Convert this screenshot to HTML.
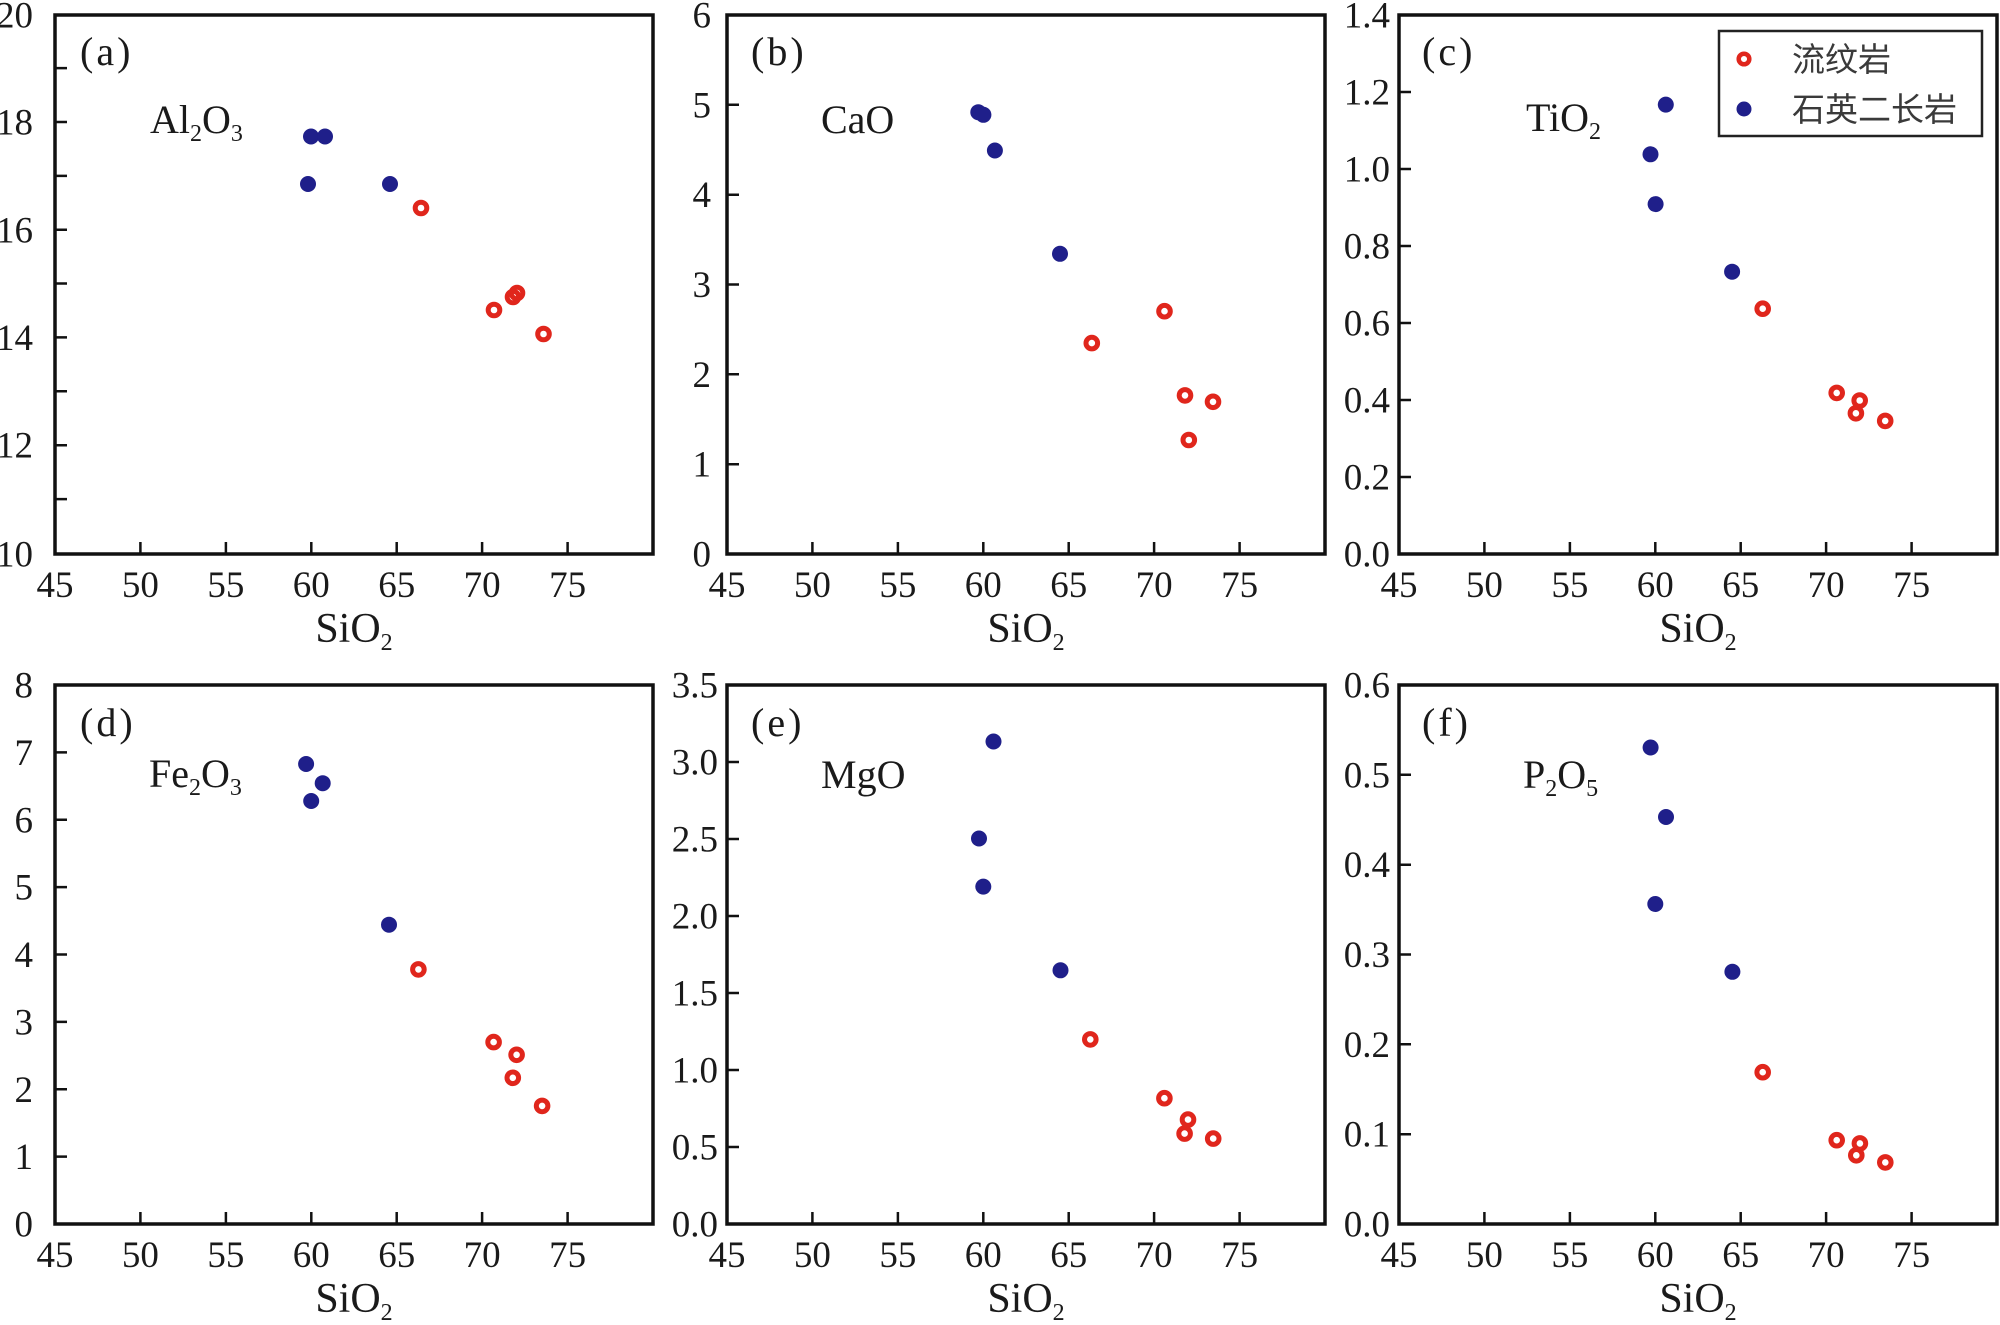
<!DOCTYPE html>
<html><head><meta charset="utf-8">
<style>
html,body{margin:0;padding:0;background:#fff;}
svg{display:block;}
.t{font-family:"Liberation Serif",serif;font-size:37px;fill:#1a1a1a;}
.lab{font-family:"Liberation Serif",serif;font-size:40px;fill:#1a1a1a;}
.ax{font-family:"Liberation Serif",serif;font-size:42px;fill:#1a1a1a;}
.leg{font-family:"Liberation Sans","Noto Sans CJK SC",sans-serif;font-size:33px;fill:#3a3a3a;}
.b{fill:#1f1f8a;}
.r{fill:none;stroke:#e0261c;stroke-width:5;}
</style></head>
<body>
<svg width="2000" height="1325" viewBox="0 0 2000 1325" xmlns="http://www.w3.org/2000/svg">
<rect width="2000" height="1325" fill="#fff"/>

<!-- frames -->
<g fill="none" stroke="#111" stroke-width="3.5">
<rect x="55" y="15" width="598" height="539"/>
<rect x="727" y="15" width="598" height="539"/>
<rect x="1399" y="15" width="598" height="539"/>
<rect x="55" y="685" width="598" height="539"/>
<rect x="727" y="685" width="598" height="539"/>
<rect x="1399" y="685" width="598" height="539"/>
</g>

<!-- ticks -->
<g stroke="#111" stroke-width="2.5">
<!-- x ticks row1 -->
<path d="M140.4 554v-12M225.9 554v-12M311.3 554v-12M396.7 554v-12M482.1 554v-12M567.6 554v-12"/>
<path d="M812.4 554v-12M897.9 554v-12M983.3 554v-12M1068.7 554v-12M1154.1 554v-12M1239.6 554v-12"/>
<path d="M1484.4 554v-12M1569.9 554v-12M1655.3 554v-12M1740.7 554v-12M1826.1 554v-12M1911.6 554v-12"/>
<!-- x ticks row2 -->
<path d="M140.4 1224v-12M225.9 1224v-12M311.3 1224v-12M396.7 1224v-12M482.1 1224v-12M567.6 1224v-12"/>
<path d="M812.4 1224v-12M897.9 1224v-12M983.3 1224v-12M1068.7 1224v-12M1154.1 1224v-12M1239.6 1224v-12"/>
<path d="M1484.4 1224v-12M1569.9 1224v-12M1655.3 1224v-12M1740.7 1224v-12M1826.1 1224v-12M1911.6 1224v-12"/>
<!-- y ticks a -->
<path d="M55 68.1h12M55 122h12M55 175.9h12M55 229.8h12M55 283.5h12M55 337.4h12M55 391.3h12M55 445.2h12M55 499.1h12"/>
<!-- b -->
<path d="M727 104.8h12M727 194.7h12M727 284.5h12M727 374.3h12M727 464.2h12"/>
<!-- c -->
<path d="M1399 92h12M1399 169h12M1399 246h12M1399 323h12M1399 400h12M1399 477h12"/>
<!-- d -->
<path d="M55 752.4h12M55 819.8h12M55 887.1h12M55 954.5h12M55 1021.9h12M55 1089.3h12M55 1156.6h12"/>
<!-- e -->
<path d="M727 762h12M727 839h12M727 916h12M727 993h12M727 1070h12M727 1147h12"/>
<!-- f -->
<path d="M1399 774.8h12M1399 864.7h12M1399 954.5h12M1399 1044.3h12M1399 1134.2h12"/>
</g>

<!-- y tick labels -->
<g class="t" text-anchor="end">
<text x="33" y="27.5">20</text><text x="33" y="134.5">18</text><text x="33" y="242.3">16</text>
<text x="33" y="349.9">14</text><text x="33" y="457.7">12</text><text x="33" y="566.5">10</text>

<text x="711" y="27.5">6</text><text x="711" y="117.3">5</text><text x="711" y="207.2">4</text>
<text x="711" y="297">3</text><text x="711" y="386.8">2</text><text x="711" y="476.7">1</text><text x="711" y="566.5">0</text>

<text x="1390" y="27.5">1.4</text><text x="1390" y="104.5">1.2</text><text x="1390" y="181.5">1.0</text>
<text x="1390" y="258.5">0.8</text><text x="1390" y="335.5">0.6</text><text x="1390" y="412.5">0.4</text>
<text x="1390" y="489.5">0.2</text><text x="1390" y="566.5">0.0</text>

<text x="33" y="697.5">8</text><text x="33" y="764.9">7</text><text x="33" y="832.3">6</text>
<text x="33" y="899.6">5</text><text x="33" y="967">4</text><text x="33" y="1034.4">3</text>
<text x="33" y="1101.8">2</text><text x="33" y="1169.1">1</text><text x="33" y="1236.5">0</text>

<text x="718" y="697.5">3.5</text><text x="718" y="774.5">3.0</text><text x="718" y="851.5">2.5</text>
<text x="718" y="928.5">2.0</text><text x="718" y="1005.5">1.5</text><text x="718" y="1082.5">1.0</text>
<text x="718" y="1159.5">0.5</text><text x="718" y="1236.5">0.0</text>

<text x="1390" y="697.5">0.6</text><text x="1390" y="787.3">0.5</text><text x="1390" y="877.2">0.4</text>
<text x="1390" y="967">0.3</text><text x="1390" y="1056.8">0.2</text><text x="1390" y="1146.7">0.1</text>
<text x="1390" y="1236.5">0.0</text>
</g>

<!-- x tick labels -->
<g class="t" text-anchor="middle">
<text x="55" y="597">45</text><text x="140.4" y="597">50</text><text x="225.9" y="597">55</text><text x="311.3" y="597">60</text><text x="396.7" y="597">65</text><text x="482.1" y="597">70</text><text x="567.6" y="597">75</text>
<text x="727" y="597">45</text><text x="812.4" y="597">50</text><text x="897.9" y="597">55</text><text x="983.3" y="597">60</text><text x="1068.7" y="597">65</text><text x="1154.1" y="597">70</text><text x="1239.6" y="597">75</text>
<text x="1399" y="597">45</text><text x="1484.4" y="597">50</text><text x="1569.9" y="597">55</text><text x="1655.3" y="597">60</text><text x="1740.7" y="597">65</text><text x="1826.1" y="597">70</text><text x="1911.6" y="597">75</text>

<text x="55" y="1267">45</text><text x="140.4" y="1267">50</text><text x="225.9" y="1267">55</text><text x="311.3" y="1267">60</text><text x="396.7" y="1267">65</text><text x="482.1" y="1267">70</text><text x="567.6" y="1267">75</text>
<text x="727" y="1267">45</text><text x="812.4" y="1267">50</text><text x="897.9" y="1267">55</text><text x="983.3" y="1267">60</text><text x="1068.7" y="1267">65</text><text x="1154.1" y="1267">70</text><text x="1239.6" y="1267">75</text>
<text x="1399" y="1267">45</text><text x="1484.4" y="1267">50</text><text x="1569.9" y="1267">55</text><text x="1655.3" y="1267">60</text><text x="1740.7" y="1267">65</text><text x="1826.1" y="1267">70</text><text x="1911.6" y="1267">75</text>
</g>

<!-- axis titles -->
<g class="ax" text-anchor="middle">
<text x="354" y="642">SiO<tspan font-size="24" dy="8">2</tspan></text>
<text x="1026" y="642">SiO<tspan font-size="24" dy="8">2</tspan></text>
<text x="1698" y="642">SiO<tspan font-size="24" dy="8">2</tspan></text>
<text x="354" y="1312">SiO<tspan font-size="24" dy="8">2</tspan></text>
<text x="1026" y="1312">SiO<tspan font-size="24" dy="8">2</tspan></text>
<text x="1698" y="1312">SiO<tspan font-size="24" dy="8">2</tspan></text>
</g>

<!-- panel letters -->
<g class="lab" letter-spacing="3">
<text x="80" y="65">(a)</text>
<text x="751" y="65">(b)</text>
<text x="1422" y="65">(c)</text>
<text x="80" y="736">(d)</text>
<text x="751" y="736">(e)</text>
<text x="1422" y="736">(f)</text>
</g>

<!-- oxide labels -->
<g class="lab">
<text x="150" y="133">Al<tspan font-size="24" dy="8">2</tspan><tspan dy="-8">O</tspan><tspan font-size="24" dy="8">3</tspan></text>
<text x="821" y="133">CaO</text>
<text x="1526" y="131">TiO<tspan font-size="24" dy="8">2</tspan></text>
<text x="149" y="787">Fe<tspan font-size="24" dy="8">2</tspan><tspan dy="-8">O</tspan><tspan font-size="24" dy="8">3</tspan></text>
<text x="821" y="788">MgO</text>
<text x="1523" y="788">P<tspan font-size="24" dy="8">2</tspan><tspan dy="-8">O</tspan><tspan font-size="24" dy="8">5</tspan></text>
</g>

<!-- data: panel a -->
<g class="b">
<circle cx="308" cy="184" r="8"/><circle cx="311" cy="136.5" r="8"/><circle cx="325" cy="136.5" r="8"/><circle cx="390" cy="184" r="8"/>
<circle cx="978.3" cy="112.2" r="8"/><circle cx="983.4" cy="114.8" r="8"/><circle cx="994.9" cy="150.5" r="8"/><circle cx="1060" cy="253.8" r="8"/>
<circle cx="1665.8" cy="104.6" r="8"/><circle cx="1650.5" cy="154.3" r="8"/><circle cx="1655.6" cy="204.1" r="8"/><circle cx="1732.1" cy="271.7" r="8"/>
<circle cx="306.1" cy="764" r="8"/><circle cx="322.7" cy="783.2" r="8"/><circle cx="311.2" cy="801" r="8"/><circle cx="389" cy="924.7" r="8"/>
<circle cx="993.5" cy="741.5" r="8"/><circle cx="979" cy="838.5" r="8"/><circle cx="983.3" cy="886.6" r="8"/><circle cx="1060.5" cy="970.3" r="8"/>
<circle cx="1650.6" cy="747.5" r="8"/><circle cx="1666" cy="817" r="8"/><circle cx="1655.3" cy="904" r="8"/><circle cx="1732.4" cy="971.8" r="8"/>
</g>
<g class="r">
<circle cx="421" cy="208" r="5.8"/><circle cx="494" cy="310" r="5.8"/><circle cx="513" cy="297" r="5.8"/><circle cx="517" cy="293" r="5.8"/><circle cx="543.5" cy="334" r="5.8"/>
<circle cx="1091.8" cy="343.1" r="5.8"/><circle cx="1164.5" cy="311.2" r="5.8"/><circle cx="1185" cy="395.4" r="5.8"/><circle cx="1213" cy="401.8" r="5.8"/><circle cx="1188.8" cy="440" r="5.8"/>
<circle cx="1762.7" cy="308.7" r="5.8"/><circle cx="1836.7" cy="392.9" r="5.8"/><circle cx="1859.7" cy="400.5" r="5.8"/><circle cx="1855.9" cy="413.3" r="5.8"/><circle cx="1885.2" cy="420.9" r="5.8"/>
<circle cx="418.4" cy="969.4" r="5.8"/><circle cx="493.6" cy="1042.1" r="5.8"/><circle cx="516.6" cy="1054.8" r="5.8"/><circle cx="512.8" cy="1077.8" r="5.8"/><circle cx="542.1" cy="1105.9" r="5.8"/>
<circle cx="1090.3" cy="1039.4" r="5.8"/><circle cx="1164.4" cy="1098.2" r="5.8"/><circle cx="1188" cy="1119.6" r="5.8"/><circle cx="1184.6" cy="1133.6" r="5.8"/><circle cx="1213.2" cy="1138.6" r="5.8"/>
<circle cx="1762.7" cy="1072.2" r="5.8"/><circle cx="1836.7" cy="1140.2" r="5.8"/><circle cx="1859.9" cy="1143.4" r="5.8"/><circle cx="1856.3" cy="1155.3" r="5.8"/><circle cx="1885.3" cy="1162.4" r="5.8"/>
</g>

<!-- legend -->
<rect x="1719" y="31" width="263" height="105" fill="#fff" stroke="#222" stroke-width="2.5"/>
<circle cx="1744" cy="59" r="5.3" fill="none" stroke="#e0261c" stroke-width="4.5"/>
<circle cx="1744" cy="109" r="7.5" fill="#1f1f8a"/>
<text class="leg" x="1792" y="71">流纹岩</text>
<text class="leg" x="1792" y="121">石英二长岩</text>
</svg>
</body></html>
